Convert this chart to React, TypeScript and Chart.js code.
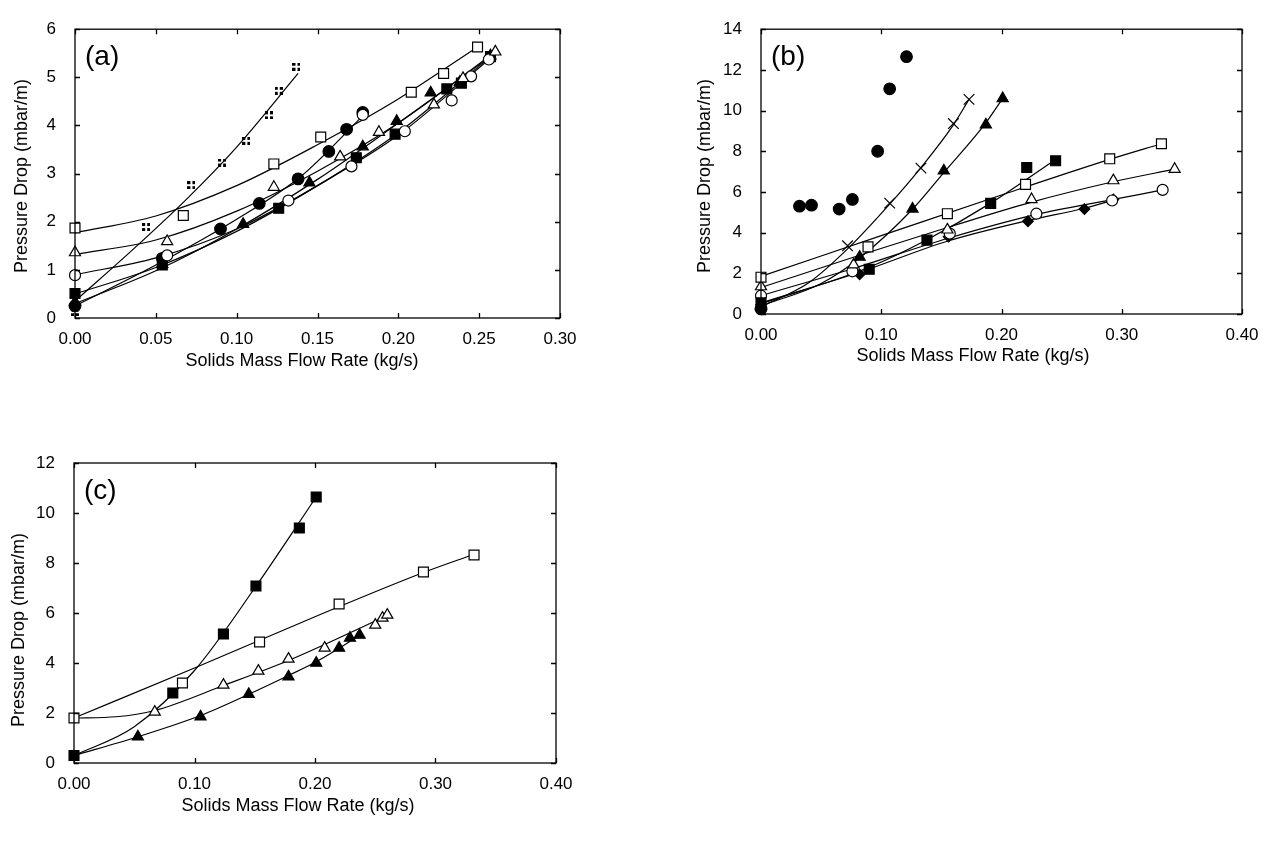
import React, { useEffect, useRef } from 'react';
import { Chart, registerables } from 'chart.js';

Chart.register(...registerables);

type Pt = [number, number];

const FONT = '"Liberation Sans", Arial, Helvetica, sans-serif';

// ---------------- Panel (a) ----------------
const aXTicks = [0, 0.05, 0.1, 0.15, 0.2, 0.25, 0.3];
const aYTicks = [0, 1, 2, 3, 4, 5, 6];

const aGrid: Pt[] = [[0, 0.12], [0.044, 1.89], [0.072, 2.76], [0.091, 3.23], [0.106, 3.68], [0.12, 4.21], [0.126, 4.72], [0.137, 5.22]];
const aGridFit: Pt[] = [[0, 0.35], [0.04, 1.55], [0.07, 2.5], [0.1, 3.55], [0.138, 5.08]];

const aOpenSquare: Pt[] = [[0, 1.87], [0.067, 2.13], [0.123, 3.2], [0.152, 3.76], [0.208, 4.69], [0.228, 5.08], [0.249, 5.63]];
const aOpenSquareFit: Pt[] = [[0, 1.77], [0.05, 2.12], [0.1, 2.75], [0.15, 3.6], [0.2, 4.55], [0.249, 5.63]];

const aOpenTriangle: Pt[] = [[0, 1.36], [0.057, 1.59], [0.123, 2.72], [0.164, 3.35], [0.188, 3.86], [0.222, 4.43], [0.24, 4.98], [0.26, 5.53]];
const aOpenTriangleFit: Pt[] = [[0, 1.32], [0.05, 1.62], [0.1, 2.22], [0.15, 3.05], [0.2, 4.05], [0.26, 5.53]];

const aOpenCircle: Pt[] = [[0, 0.89], [0.057, 1.3], [0.132, 2.44], [0.171, 3.15], [0.178, 4.22], [0.204, 3.88], [0.233, 4.52], [0.245, 5.02], [0.256, 5.37]];
const aOpenCircleFit: Pt[] = [[0, 0.9], [0.05, 1.25], [0.1, 1.85], [0.15, 2.75], [0.2, 3.8], [0.256, 5.37]];

const aFilledCircle: Pt[] = [[0, 0.25], [0.054, 1.24], [0.09, 1.85], [0.114, 2.38], [0.138, 2.89], [0.157, 3.46], [0.168, 3.92], [0.178, 4.27]];
const aFilledCircleFit: Pt[] = [[0, 0.25], [0.05, 1.1], [0.1, 2.05], [0.14, 2.95], [0.178, 4.2]];

const aFilledSquare: Pt[] = [[0, 0.51], [0.054, 1.1], [0.126, 2.28], [0.174, 3.33], [0.198, 3.82], [0.23, 4.76], [0.239, 4.88], [0.257, 5.43]];
const aFilledSquareFit: Pt[] = [[0, 0.5], [0.05, 1.05], [0.1, 1.8], [0.15, 2.75], [0.2, 3.85], [0.257, 5.43]];

const aFilledTriangle: Pt[] = [[0, 0.33], [0.054, 1.12], [0.104, 1.95], [0.145, 2.81], [0.178, 3.56], [0.199, 4.09], [0.22, 4.68], [0.238, 4.9], [0.257, 5.45]];
const aFilledTriangleFit: Pt[] = [[0, 0.3], [0.05, 0.98], [0.1, 1.85], [0.15, 2.88], [0.2, 4.05], [0.257, 5.43]];

// ---------------- Panel (b) ----------------
const bXTicks = [0, 0.1, 0.2, 0.3, 0.4];
const bYTicks = [0, 2, 4, 6, 8, 10, 12, 14];

const bFilledCircle: Pt[] = [[0, 0.25], [0.032, 5.3], [0.042, 5.35], [0.065, 5.16], [0.076, 5.63], [0.097, 8.0], [0.107, 11.07], [0.121, 12.65]];

const bCross: Pt[] = [[0.072, 3.35], [0.107, 5.45], [0.133, 7.17], [0.16, 9.36], [0.173, 10.55]];
const bCrossFit: Pt[] = [[0, 0.35], [0.04, 1.55], [0.072, 3.2], [0.107, 5.4], [0.133, 7.2], [0.16, 9.3], [0.173, 10.55]];

const bFilledTriangle: Pt[] = [[0, 0.4], [0.082, 2.8], [0.126, 5.17], [0.152, 7.04], [0.187, 9.3], [0.201, 10.6]];
const bFilledTriangleFit: Pt[] = [[0, 0.4], [0.05, 1.5], [0.082, 2.75], [0.126, 5.15], [0.152, 6.95], [0.187, 9.4], [0.201, 10.6]];

const bFilledSquare: Pt[] = [[0, 0.55], [0.09, 2.2], [0.138, 3.63], [0.191, 5.44], [0.221, 7.2], [0.245, 7.53]];
const bFilledSquareFit: Pt[] = [[0, 0.5], [0.09, 2.3], [0.138, 3.65], [0.191, 5.45], [0.245, 7.6]];

const bOpenSquare: Pt[] = [[0, 1.81], [0.089, 3.3], [0.155, 4.93], [0.22, 6.37], [0.29, 7.63], [0.333, 8.37]];
const bOpenSquareFit: Pt[] = [[0, 1.85], [0.1, 3.85], [0.2, 5.85], [0.29, 7.6], [0.333, 8.37]];

const bOpenTriangle: Pt[] = [[0, 1.35], [0.077, 2.42], [0.155, 4.14], [0.225, 5.63], [0.293, 6.56], [0.344, 7.12]];
const bOpenTriangleFit: Pt[] = [[0, 1.3], [0.08, 2.85], [0.155, 4.25], [0.225, 5.5], [0.293, 6.5], [0.344, 7.12]];

const bOpenCircle: Pt[] = [[0, 0.9], [0.076, 2.1], [0.157, 3.95], [0.229, 4.93], [0.292, 5.58], [0.334, 6.1]];
const bOpenCircleFit: Pt[] = [[0, 0.9], [0.08, 2.3], [0.157, 3.75], [0.229, 4.9], [0.292, 5.62], [0.334, 6.1]];

const bDiamond: Pt[] = [[0, 0.45], [0.082, 1.95], [0.156, 3.8], [0.222, 4.56], [0.269, 5.16], [0.293, 5.63]];
const bDiamondFit: Pt[] = [[0, 0.55], [0.082, 2.05], [0.156, 3.6], [0.222, 4.6], [0.269, 5.2], [0.293, 5.6]];

// ---------------- Panel (c) ----------------
const cXTicks = [0, 0.1, 0.2, 0.3, 0.4];
const cYTicks = [0, 2, 4, 6, 8, 10, 12];

const cFilledSquare: Pt[] = [[0, 0.3], [0.082, 2.8], [0.124, 5.16], [0.151, 7.08], [0.187, 9.4], [0.201, 10.64]];
const cFilledSquareFit: Pt[] = [[0, 0.3], [0.05, 1.45], [0.1, 3.7], [0.15, 7.0], [0.201, 10.64]];

const cOpenSquare: Pt[] = [[0, 1.8], [0.09, 3.2], [0.154, 4.84], [0.22, 6.36], [0.29, 7.64], [0.332, 8.32]];
const cOpenSquareFit: Pt[] = [[0, 1.8], [0.1, 3.8], [0.2, 5.85], [0.29, 7.62], [0.332, 8.35]];

const cOpenTriangle: Pt[] = [[0.067, 2.04], [0.124, 3.12], [0.153, 3.68], [0.178, 4.16], [0.208, 4.6], [0.25, 5.52], [0.256, 5.8], [0.26, 5.92]];
const cOpenTriangleFit: Pt[] = [[0, 1.8], [0.035, 1.85], [0.067, 2.1], [0.124, 3.1], [0.178, 4.1], [0.26, 5.9]];

const cFilledTriangle: Pt[] = [[0.053, 1.05], [0.105, 1.85], [0.145, 2.75], [0.178, 3.45], [0.201, 4.0], [0.22, 4.6], [0.229, 5.0], [0.237, 5.12]];
const cFilledTriangleFit: Pt[] = [[0, 0.3], [0.053, 1.05], [0.105, 1.9], [0.145, 2.75], [0.178, 3.5], [0.201, 4.05], [0.237, 5.1]];

// ---------------- styling ----------------
type Marker = 'grid' | 'openSquare' | 'filledSquare' | 'openTriangle' | 'filledTriangle' | 'openCircle' | 'filledCircle' | 'diamond' | 'cross';

let gridImg: HTMLCanvasElement | null = null;
function gridMarker(): HTMLCanvasElement {
  if (gridImg) return gridImg;
  const c = document.createElement('canvas');
  c.width = 8;
  c.height = 8;
  const g = c.getContext('2d')!;
  g.fillStyle = '#000';
  g.fillRect(0, 0, 3, 3);
  g.fillRect(5, 0, 3, 3);
  g.fillRect(0, 5, 3, 3);
  g.fillRect(5, 5, 3, 3);
  gridImg = c;
  return c;
}

function markerProps(m: Marker): any {
  switch (m) {
    case 'grid': return { pointStyle: gridMarker(), pointRadius: 4, backgroundColor: '#000', borderColor: '#000' };
    case 'openSquare': return { pointStyle: 'rect', pointRadius: 7, backgroundColor: '#fff', borderColor: '#000' };
    case 'filledSquare': return { pointStyle: 'rect', pointRadius: 7, backgroundColor: '#000', borderColor: '#000' };
    case 'openTriangle': return { pointStyle: 'triangle', pointRadius: 6.4, backgroundColor: '#fff', borderColor: '#000' };
    case 'filledTriangle': return { pointStyle: 'triangle', pointRadius: 6.4, backgroundColor: '#000', borderColor: '#000' };
    case 'openCircle': return { pointStyle: 'circle', pointRadius: 5.5, backgroundColor: '#fff', borderColor: '#000' };
    case 'filledCircle': return { pointStyle: 'circle', pointRadius: 5.8, backgroundColor: '#000', borderColor: '#000' };
    case 'diamond': return { pointStyle: 'rectRot', pointRadius: 5.3, backgroundColor: '#000', borderColor: '#000' };
    case 'cross': return { pointStyle: 'crossRot', pointRadius: 7.5, backgroundColor: '#000', borderColor: '#000' };
  }
}

interface Series { pts: Pt[]; fit?: Pt[]; marker: Marker; }

interface PanelCfg {
  letter: string;
  plot: { left: number; top: number; right: number; bottom: number };
  xMax: number;
  yMax: number;
  xTicks: number[];
  yTicks: number[];
  xTitlePos: [number, number];
  yTitlePos: [number, number];
  series: Series[];
}

const W = 1272;
const H = 846;

const panels: PanelCfg[] = [
  {
    letter: '(a)',
    plot: { left: 75, top: 13, right: 560, bottom: 318 },
    xMax: 0.3, yMax: 6, xTicks: aXTicks, yTicks: aYTicks,
    xTitlePos: [302, 361], yTitlePos: [22, 176],
    series: [
      { pts: aGrid, fit: aGridFit, marker: 'grid' },
      { pts: aOpenSquare, fit: aOpenSquareFit, marker: 'openSquare' },
      { pts: aOpenTriangle, fit: aOpenTriangleFit, marker: 'openTriangle' },
      { pts: aOpenCircle, fit: aOpenCircleFit, marker: 'openCircle' },
      { pts: aFilledCircle, fit: aFilledCircleFit, marker: 'filledCircle' },
      { pts: aFilledSquare, fit: aFilledSquareFit, marker: 'filledSquare' },
      { pts: aFilledTriangle, fit: aFilledTriangleFit, marker: 'filledTriangle' },
    ],
  },
  {
    letter: '(b)',
    plot: { left: 761, top: 14, right: 1242, bottom: 314 },
    xMax: 0.4, yMax: 14, xTicks: bXTicks, yTicks: bYTicks,
    xTitlePos: [973, 356], yTitlePos: [705, 176],
    series: [
      { pts: bFilledCircle, marker: 'filledCircle' },
      { pts: bCross, fit: bCrossFit, marker: 'cross' },
      { pts: bFilledTriangle, fit: bFilledTriangleFit, marker: 'filledTriangle' },
      { pts: bFilledSquare, fit: bFilledSquareFit, marker: 'filledSquare' },
      { pts: bOpenSquare, fit: bOpenSquareFit, marker: 'openSquare' },
      { pts: bOpenTriangle, fit: bOpenTriangleFit, marker: 'openTriangle' },
      { pts: bOpenCircle, fit: bOpenCircleFit, marker: 'openCircle' },
      { pts: bDiamond, fit: bDiamondFit, marker: 'diamond' },
    ],
  },
  {
    letter: '(c)',
    plot: { left: 74, top: 463, right: 556, bottom: 763 },
    xMax: 0.4, yMax: 12, xTicks: cXTicks, yTicks: cYTicks,
    xTitlePos: [298, 806], yTitlePos: [19, 630],
    series: [
      { pts: cFilledSquare, fit: cFilledSquareFit, marker: 'filledSquare' },
      { pts: cOpenSquare, fit: cOpenSquareFit, marker: 'openSquare' },
      { pts: cOpenTriangle, fit: cOpenTriangleFit, marker: 'openTriangle' },
      { pts: cFilledTriangle, fit: cFilledTriangleFit, marker: 'filledTriangle' },
    ],
  },
];

const framePlugin = {
  id: 'frame',
  afterDraw(chart: any, _args: any, opts: any) {
    const { ctx, chartArea: a, scales } = chart;
    ctx.save();
    ctx.strokeStyle = '#000';
    ctx.lineWidth = 1.3;
    ctx.strokeRect(a.left, a.top, a.right - a.left, a.bottom - a.top);
    const L = 5;
    ctx.beginPath();
    scales.x.ticks.forEach((t: any) => {
      const px = Math.round(scales.x.getPixelForValue(t.value)) + 0.5;
      ctx.moveTo(px, a.bottom); ctx.lineTo(px, a.bottom - L);
      ctx.moveTo(px, a.top); ctx.lineTo(px, a.top + L);
    });
    scales.y.ticks.forEach((t: any) => {
      const py = Math.round(scales.y.getPixelForValue(t.value)) + 0.5;
      ctx.moveTo(a.left, py); ctx.lineTo(a.left + L, py);
      ctx.moveTo(a.right, py); ctx.lineTo(a.right - L, py);
    });
    ctx.stroke();

    ctx.fillStyle = '#000';
    ctx.font = `28px ${FONT}`;
    ctx.textAlign = 'left';
    ctx.textBaseline = 'middle';
    ctx.fillText(opts.letter, a.left + 10, a.top + 28);

    ctx.font = `18px ${FONT}`;
    ctx.textAlign = 'center';
    ctx.fillText('Solids Mass Flow Rate (kg/s)', opts.xTitlePos[0], opts.xTitlePos[1]);
    ctx.translate(opts.yTitlePos[0], opts.yTitlePos[1]);
    ctx.rotate(-Math.PI / 2);
    ctx.fillText('Pressure Drop (mbar/m)', 0, 0);
    ctx.restore();
  },
};

function Panel({ cfg }: { cfg: PanelCfg }) {
  const ref = useRef<HTMLCanvasElement>(null);
  useEffect(() => {
    const datasets: any[] = [];
    cfg.series.forEach((s) => {
      datasets.push({
        data: s.pts.map(([x, y]) => ({ x, y })),
        showLine: false,
        borderWidth: 1.2,
        clip: false,
        order: 0,
        ...markerProps(s.marker),
      });
      if (s.fit) {
        datasets.push({
          data: s.fit.map(([x, y]) => ({ x, y })),
          showLine: true,
          pointRadius: 0,
          borderColor: '#000',
          borderWidth: 1.2,
          cubicInterpolationMode: 'monotone',
          fill: false,
          clip: false,
          order: 1,
        });
      }
    });
    const tickFont = { family: FONT, size: 17 };
    const chart = new Chart(ref.current!, {
      type: 'scatter',
      data: { datasets },
      options: {
        animation: false,
        responsive: false,
        devicePixelRatio: 1,
        events: [],
        layout: {
          padding: {
            left: cfg.plot.left - 60,
            top: cfg.plot.top,
            right: W - cfg.plot.right,
            bottom: H - cfg.plot.bottom - 60,
          },
        },
        plugins: {
          legend: { display: false },
          tooltip: { enabled: false },
          frame: { letter: cfg.letter, xTitlePos: cfg.xTitlePos, yTitlePos: cfg.yTitlePos },
        } as any,
        scales: {
          x: {
            type: 'linear',
            min: 0,
            max: cfg.xMax,
            grid: { display: false, drawTicks: false },
            border: { display: false },
            afterBuildTicks: (ax: any) => { ax.ticks = cfg.xTicks.map((v) => ({ value: v })); },
            afterFit: (ax: any) => { ax.height = 60; },
            ticks: {
              font: tickFont,
              color: '#000',
              padding: 11,
              maxRotation: 0,
              autoSkip: false,
              callback: (v: any) => Number(v).toFixed(2),
            },
          },
          y: {
            type: 'linear',
            min: 0,
            max: cfg.yMax,
            grid: { display: false, drawTicks: false },
            border: { display: false },
            afterBuildTicks: (ax: any) => { ax.ticks = cfg.yTicks.map((v) => ({ value: v })); },
            afterFit: (ax: any) => { ax.width = 60; },
            ticks: {
              font: tickFont,
              color: '#000',
              padding: 19,
              autoSkip: false,
              callback: (v: any) => String(v),
            },
          },
        },
      } as any,
      plugins: [framePlugin],
    });
    return () => chart.destroy();
  }, [cfg]);
  return <canvas ref={ref} width={W} height={H} style={{ position: 'absolute', left: 0, top: 0, width: W, height: H }} />;
}

export default function App() {
  return (
    <div style={{ position: 'absolute', left: 0, top: 0, width: W, height: H, background: '#fff', overflow: 'hidden' }}>
      {panels.map((p) => <Panel key={p.letter} cfg={p} />)}
    </div>
  );
}
